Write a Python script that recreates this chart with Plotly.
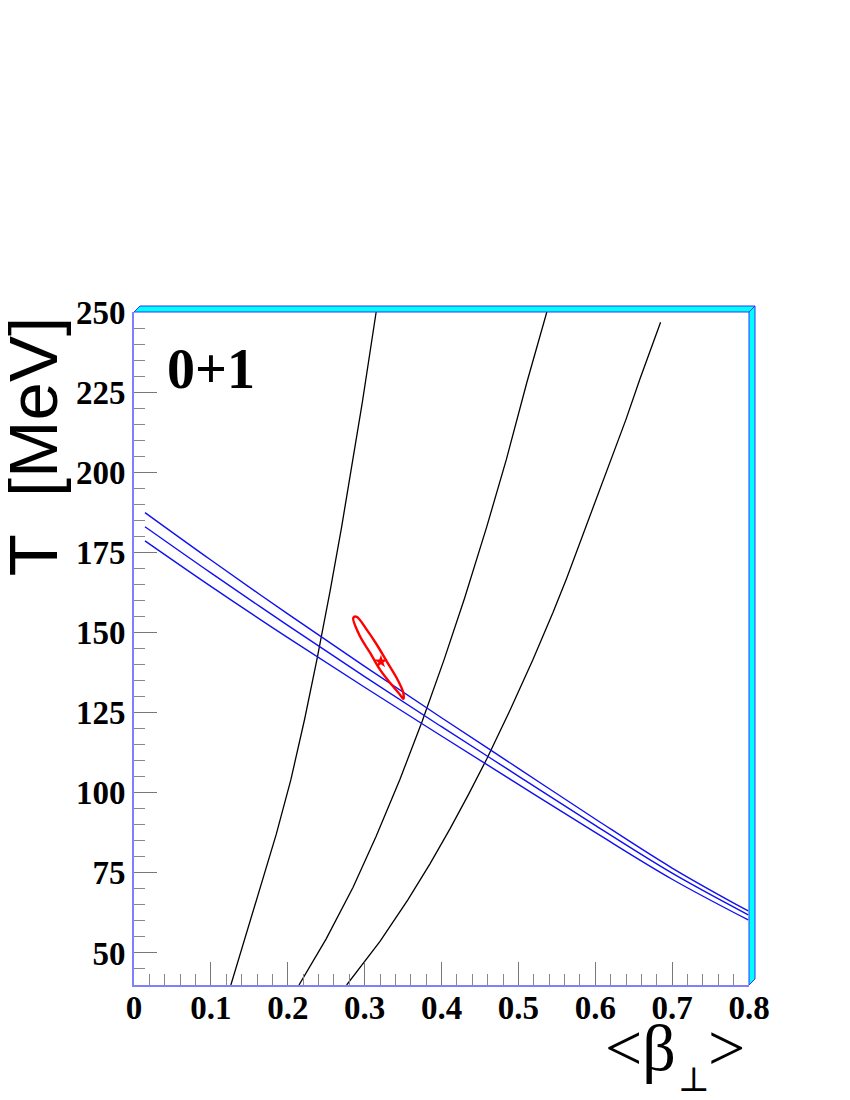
import plotly.graph_objects as go

# black curves (T vs <beta_T>)
c1_beta = [0.126, 0.145, 0.165, 0.185, 0.204, 0.222, 0.238, 0.255, 0.270, 0.284, 0.297, 0.315]
c1_T = [40, 55, 70.5, 87, 104, 123, 141.6, 162.8, 182.8, 202.6, 221.8, 250]

c2_beta = [0.2146, 0.25, 0.285, 0.315, 0.346, 0.375, 0.4035, 0.43, 0.459, 0.4844, 0.511, 0.537]
c2_T = [40, 54.4, 70.5, 86.4, 104.2, 122.4, 141.6, 160.7, 183.1, 204, 228, 250]

c3_beta = [0.2766, 0.32, 0.356, 0.385, 0.411, 0.435, 0.459, 0.49, 0.519, 0.545,
           0.5626, 0.593, 0.619, 0.64, 0.658, 0.685]
c3_T = [40, 53.6, 66.5, 77.8, 88.7, 99.4, 110.6, 126.2, 141.6, 156.2,
        166.8, 186.5, 203, 216.5, 229, 246.8]

# blue band (three lines)
band_beta = [0.0143, 0.1, 0.2, 0.3, 0.4, 0.5, 0.6, 0.7, 0.799]
band_top = [187.4, 172.6, 155.8, 139.4, 123.4, 107.6, 91.8, 76.5, 63.1]
band_mid = [183.0, 168.6, 152.2, 136.2, 120.6, 105.2, 89.8, 74.9, 61.9]
band_low = [178.6, 164.4, 148.4, 132.9, 117.7, 102.6, 87.6, 73.0, 60.3]

# red contour and best fit point
ell_beta = [0.2853, 0.2940, 0.3070, 0.3200, 0.3330, 0.3460, 0.3503,
            0.3503, 0.3417, 0.3287, 0.3157, 0.3027, 0.2897, 0.2853]
ell_T = [154.6, 148.8, 143.7, 138.4, 134.3, 130.6, 129.3,
         131.2, 135.8, 141.0, 146.25, 150.9, 154.9, 154.6]
best_beta = [0.3212]
best_T = [140.9]

fig = go.Figure()

for xs, ys in [(c1_beta, c1_T), (c2_beta, c2_T), (c3_beta, c3_T)]:
    fig.add_trace(go.Scatter(x=xs, y=ys, mode='lines',
                             line=dict(color='black', width=1.3)))

for ys in [band_top, band_mid, band_low]:
    fig.add_trace(go.Scatter(x=band_beta, y=ys, mode='lines', line_shape='spline',
                             line=dict(color='#1010f0', width=1.4)))

fig.add_trace(go.Scatter(x=ell_beta, y=ell_T, mode='lines', line_shape='spline',
                         line=dict(color='red', width=2.4)))
fig.add_trace(go.Scatter(x=best_beta, y=best_T, mode='markers',
                         marker=dict(symbol='star', size=10, color='red')))

tickfont = dict(family='Liberation Serif', size=33, color='black', weight='bold')

fig.update_xaxes(range=[0, 0.8], tick0=0, dtick=0.1, ticks='inside', ticklen=23,
                 tickcolor='#777777', tickwidth=1, showline=True, linecolor='#8080ff',
                 linewidth=2, showgrid=False, zeroline=False, tickfont=tickfont,
                 ticklabelstandoff=-8,
                 minor=dict(dtick=0.02, ticks='inside', ticklen=11, tickcolor='#888888',
                            showgrid=False))
fig.update_yaxes(range=[40, 250], tick0=50, dtick=25, ticks='inside', ticklen=23,
                 tickcolor='#777777', tickwidth=1, showline=True, linecolor='#8080ff',
                 linewidth=2, showgrid=False, zeroline=False, tickfont=tickfont,
                 minor=dict(dtick=5, ticks='inside', ticklen=11, tickcolor='#888888',
                            showgrid=False))

# cyan 3D frame on top and right
dx = 6 / 615
dy = 6 / 673
fig.add_shape(type='path', xref='paper', yref='paper',
              path=f'M 0 1 L {dx} {1+dy} L {1+dx} {1+dy} L 1 1 Z',
              fillcolor='#00ffff', line=dict(color='#3030ff', width=1))
fig.add_shape(type='path', xref='paper', yref='paper',
              path=f'M 1 1 L {1+dx} {1+dy} L {1+dx} {dy} L 1 0 Z',
              fillcolor='#00ffff', line=dict(color='#3030ff', width=1))

fig.add_annotation(text='0+1', xref='paper', yref='paper', x=0.05, y=0.915,
                   xanchor='left', yanchor='middle', showarrow=False,
                   font=dict(family='Liberation Serif', size=56, color='black', weight='bold'))

fig.add_annotation(text='T  [MeV]', xref='paper', yref='paper', x=-0.163, y=0.8,
                   xanchor='center', yanchor='middle', textangle=-90, showarrow=False,
                   font=dict(family='Liberation Sans', size=69, color='black'))

# x title <beta_perp>, pieces placed separately so the subscript sits low like ROOT
title_font = dict(family='Liberation Serif', size=66, color='black')
fig.add_annotation(text='&lt;β', xref='paper', yref='paper', x=0.885, y=-0.035,
                   xanchor='right', yanchor='top', showarrow=False, font=title_font)
fig.add_annotation(text='⊥', xref='paper', yref='paper', x=0.911, y=-0.14,
                   xanchor='center', yanchor='middle', showarrow=False,
                   font=dict(family='DejaVu Serif', size=34, color='black'))
fig.add_annotation(text='&gt;', xref='paper', yref='paper', x=0.997, y=-0.035,
                   xanchor='right', yanchor='top', showarrow=False, font=title_font)

# page body has an 8px margin, so the margins are shifted by that
fig.update_layout(width=850, height=1100, showlegend=False,
                  margin=dict(l=126, r=109, t=304, b=123),
                  plot_bgcolor='white', paper_bgcolor='white')

fig.write_html('out.html')
